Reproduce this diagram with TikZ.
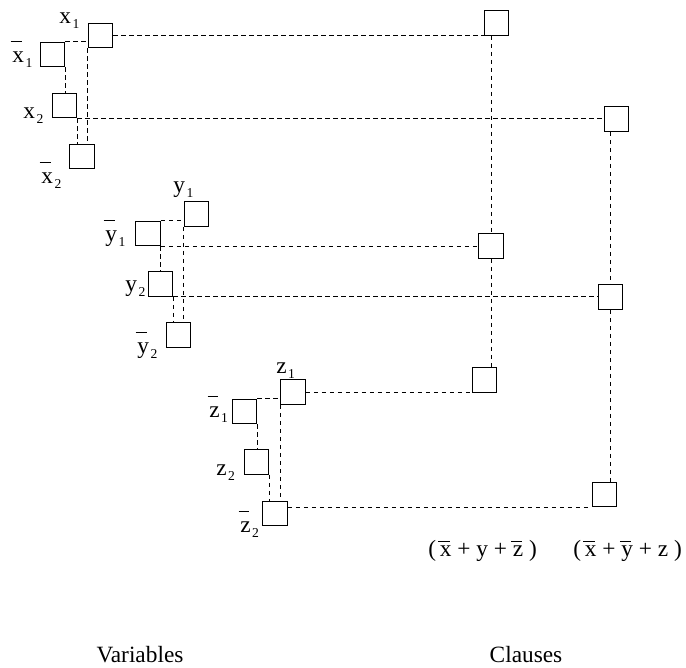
\documentclass[tikz,border=0pt]{standalone}
\usepackage{fontspec}
\setmainfont{Liberation Serif}
\usepackage{tikz}
\usetikzlibrary{positioning, calc}

\newcommand{\nbar}[2][0.86em]{\setbox0\hbox{#2}\rlap{\kern-1.2pt\rule[#1]{\wd0}{0.7pt}}\box0\relax}
\newcommand{\idx}[1]{\kern1.2pt\raisebox{-3.8pt}{\fontsize{10.2}{11}\selectfont #1}}

\begin{document}
\begin{tikzpicture}[
x=0.75pt, y=-0.75pt,
font=\fontsize{17.5}{20}\selectfont,
box/.style={draw, line width=0.9pt, minimum size=18.4pt, inner sep=0pt},
link/.style={line width=0.6pt, dash pattern=on 3.4pt off 2.6pt},
lbl/.style={anchor=base west, inner sep=0pt}
]
\useasboundingbox (0,0) rectangle (686,668);
% variable x
\node[box] (x1) at (100.5,35.5) {};
\node[box] (nx1) at (52.5,54.5) {};
\node[box] (x2) at (64.5,105.5) {};
\node[box] (nx2) at (82,156.5) {};
% variable y
\node[box] (y1) at (196.5,214) {};
\node[box] (ny1) at (148,233.5) {};
\node[box] (y2) at (160.5,284) {};
\node[box] (ny2) at (178.5,335) {};
% variable z
\node[box] (z1) at (293,392) {};
\node[box] (nz1) at (244.5,411.5) {};
\node[box] (z2) at (256.5,462) {};
\node[box] (nz2) at (275,513.5) {};
% clauses
\node[box] (c1a) at (496.5,23) {};
\node[box] (c1b) at (491,246) {};
\node[box] (c1c) at (484.5,380) {};
\node[box] (c2a) at (616.5,119) {};
\node[box] (c2b) at (610.5,297) {};
\node[box] (c2c) at (604.5,494.5) {};

% literal labels
\node[lbl] (lx1) at (59,23) {x\idx{1}};
\node[lbl] (lnx1) at (12,62) {\nbar{x}\idx{1}};
\node[lbl] (lx2) at (23,118) {x\idx{2}};
\node[lbl] (lnx2) at (41,183) {\nbar{x}\idx{2}};
\node[lbl] (ly1) at (173,192) {y\idx{1}};
\node[lbl] (lny1) at (105,241) {\nbar{y}\idx{1}};
\node[lbl] (ly2) at (125,291) {y\idx{2}};
\node[lbl] (lny2) at (137,353) {\nbar{y}\idx{2}};
\node[lbl] (lz1) at (276,373) {z\idx{1}};
\node[lbl] (lnz1) at (209,417) {\nbar{z}\idx{1}};
\node[lbl] (lz2) at (216,475) {z\idx{2}};
\node[lbl] (lnz2) at (240,532) {\nbar{z}\idx{2}};

\node[lbl] (k1) at (428,556) {(\,\nbar[0.6em]{x} + y + \nbar[0.6em]{z}\ )};
\node[lbl] (k2) at (573,556) {(\,\nbar[0.6em]{x} + \nbar[0.6em]{y} + z\ )};
\node[anchor=base] (vars) at (140,662) {Variables};
\node[anchor=base] (cls) at (526,662) {Clauses};

% links inside the variables
\draw[link] (nx1.north east) -- (nx1.north east -| x1.west);
\draw[link] (nx1.south east) -- (nx1.south east |- x2.north);
\draw[link] (x2.south east) -- (x2.south east |- nx2.north);
\draw[link] (x1.south west) -- (x1.south west |- nx2.north);
\draw[link] (ny1.north east) -- (ny1.north east -| y1.west);
\draw[link] (ny1.south east) -- (ny1.south east |- y2.north);
\draw[link] (y2.south east) -- (y2.south east |- ny2.north);
\draw[link] (y1.south west) -- (y1.south west |- ny2.north);
\draw[link] (nz1.north east) -- (nz1.north east -| z1.west);
\draw[link] (nz1.south east) -- (nz1.south east |- z2.north);
\draw[link] (z2.south east) -- (z2.south east |- nz2.north);
\draw[link] (z1.south west) -- (z1.south west |- nz2.north);
% links to the clauses
\draw[link] (x1.east) -- (x1.east -| c1a.west);
\draw[link] (x2.south east) -- (x2.south east -| c2a.west);
\draw[link] (ny1.south east) -- (ny1.south east -| c1b.west);
\draw[link] (y2.south east) -- (y2.south east -| c2b.west);
\draw[link] (z1.east) -- (z1.east -| c1c.west);
\draw[link] (c2c.south west -| nz2.east) -- (c2c.south west);
% clause columns
\draw[link] (c1a.south -| c1b) -- (c1b.north);
\draw[link] (c1b.south) -- (c1b.south |- c1c.north);
\draw[link] (c2a.south -| c2b) -- (c2b.north);
\draw[link] (c2b.south) -- (c2b.south |- c2c.north);
\end{tikzpicture}
\end{document}
